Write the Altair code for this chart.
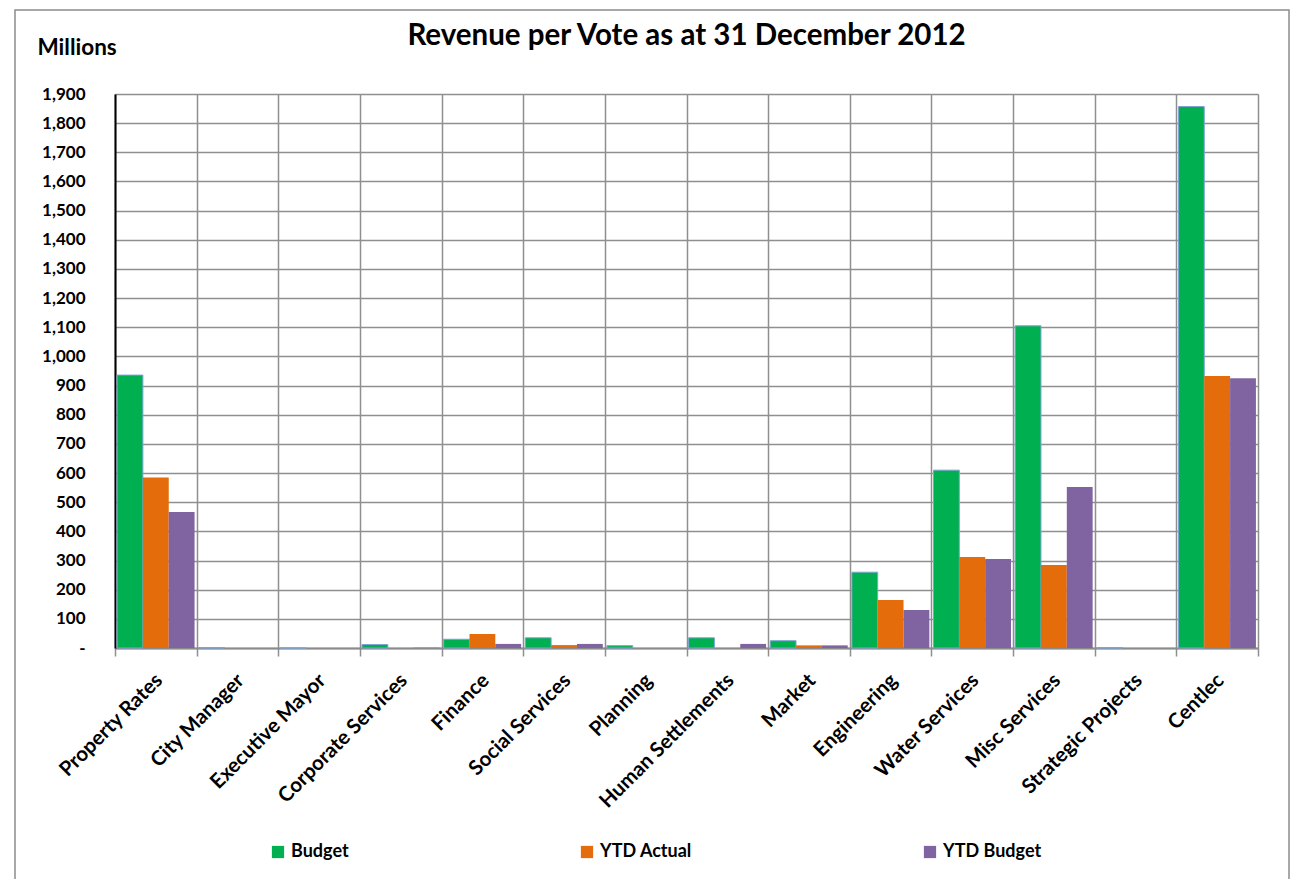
import altair as alt
import pandas as pd

categories = ["Property Rates", "City Manager", "Executive Mayor", "Corporate Services",
              "Finance", "Social Services", "Planning", "Human Settlements", "Market",
              "Engineering", "Water Services", "Misc Services", "Strategic Projects", "Centlec"]
budget = [936, 1, 0, 12, 30, 35, 8, 35, 25, 260, 610, 1105, 1, 1857]
ytd_actual = [585, 0, 0, 0, 48, 10, 0, 0, 9, 165, 312, 285, 0, 933]
ytd_budget = [466, 0, 0, 1, 14, 14, 0, 14, 9, 130, 305, 552, 0, 925]
series = ["Budget", "YTD Actual", "YTD Budget"]
colors = ["#00B050", "#E46C0A", "#8064A2"]

rows = []
for i, c in enumerate(categories):
    for s, vals in zip(series, [budget, ytd_actual, ytd_budget]):
        rows.append({"Vote": c, "Series": s, "Value": vals[i]})
df = pd.DataFrame(rows)

FONT = "Lato"
W, H = 1143, 554

bars = alt.Chart(df).mark_bar(strokeWidth=1).encode(
    x=alt.X("Vote:N", sort=categories,
            scale=alt.Scale(paddingInner=0, paddingOuter=0),
            axis=alt.Axis(title=None, labelAngle=-45, labelAlign="right", labelBaseline="middle",
                          labelFont=FONT, labelFontWeight="bold", labelFontSize=20.5, labelColor="#000",
                          labelPadding=21, domainColor="#8c8c8c", domainWidth=2,
                          grid=True, gridColor="#8f8f8f", gridWidth=1.5, bandPosition=0,
                          tickBand="extent", ticks=True, tickSize=8, tickColor="#8f8f8f", tickWidth=1.5,
                          labelOffset=3, labelLimit=300)),
    xOffset=alt.XOffset("Series:N", sort=series,
                        scale=alt.Scale(paddingInner=0, paddingOuter=0.08)),
    y=alt.Y("Value:Q", scale=alt.Scale(domain=[0, 1900], nice=False),
            axis=alt.Axis(values=list(range(0, 2000, 100)),
                          labelExpr="datum.value == 0 ? '-' : format(datum.value, ',')",
                          labelFont=FONT, labelFontWeight="bold", labelFontSize=17, labelColor="#000",
                          labelPadding=30, ticks=False, domainColor="#000", domainWidth=2,
                          gridColor="#8f8f8f", gridWidth=1.5,
                          title="Millions", titleAngle=0, titleX=-78, titleY=-47,
                          titleAlign="left", titleBaseline="middle", titleFont=FONT,
                          titleFontSize=22.5, titleFontWeight="bold", titleColor="#000")),
    color=alt.Color("Series:N", sort=series, scale=alt.Scale(domain=series, range=colors),
                    legend=alt.Legend(title=None, orient="none", direction="horizontal",
                                      legendX=154, legendY=749,
                                      symbolType="square", symbolSize=150, symbolStrokeWidth=0,
                                      labelFont=FONT, labelFontWeight="bold", labelFontSize=18,
                                      labelColor="#000", columnPadding=229, labelOffset=4)),
    stroke=alt.condition(alt.datum.Series == "Budget", alt.value("#7fa3d6"), alt.value(None)),
)

border = alt.Chart(pd.DataFrame({"a": [0]})).mark_rect(fill=None, stroke="#8c8c8c", strokeWidth=1.5).encode(
    x=alt.value(15 - 115), x2=alt.value(1289 - 115),
    y=alt.value(10 - 94), y2=alt.value(900 - 94),
)

chart = alt.layer(border, bars).properties(
    width=W, height=H,
    title=alt.TitleParams("Revenue per Vote as at 31 December 2012", font=FONT, fontSize=29.5,
                          fontWeight="bold", color="#000", anchor="middle", offset=0, dy=71,
                          frame="group", baseline="bottom"),
    autosize=alt.AutoSizeParams(type="none"),
    padding={"left": 115, "top": 94, "right": 39, "bottom": 231},
).configure_view(stroke="#8f8f8f", strokeWidth=1.5).configure(background="white")

chart.save("out.html", embed_options={"renderer": "svg", "actions": False})
